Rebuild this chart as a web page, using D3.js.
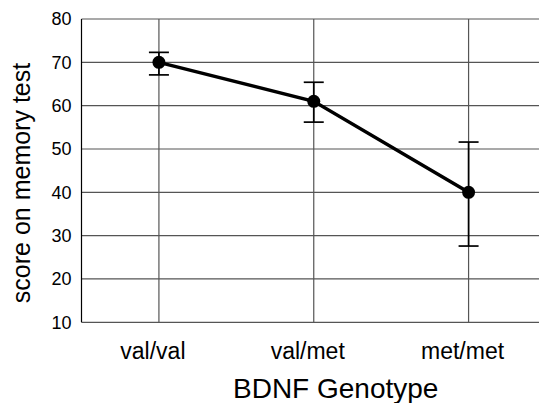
<!DOCTYPE html>
<html>
<head>
<meta charset="utf-8">
<script src="https://cdn.jsdelivr.net/npm/d3@7"></script>
<style>
  body { margin: 0; background: #fff; }
  svg { display: block; font-family: "Liberation Sans", Arial, sans-serif; }
</style>
</head>
<body>
<div id="chart"></div>
<script>
const genotypes = ["val/val", "val/met", "met/met"];
const means = [70, 61, 40];
const upper = [72.3, 65.4, 51.6];
const lower = [67.1, 56.2, 27.6];
const yTicks = [10, 20, 30, 40, 50, 60, 70, 80];

const W = 539, H = 403;
const plotLeft = 81.5, plotRight = 546, plotTop = 19, plotBottom = 322.3;

const svg = d3.select("#chart").append("svg").attr("width", W).attr("height", H);

const x = d3.scaleBand().domain(genotypes).range([plotLeft, plotRight]).paddingInner(0).paddingOuter(0);
const y = d3.scaleLinear().domain([10, 80]).range([plotBottom, plotTop]);
const cx = (g) => x(g) + x.bandwidth() / 2;

// horizontal grid
svg.append("g")
  .selectAll("line")
  .data(yTicks)
  .join("line")
  .attr("x1", plotLeft)
  .attr("x2", plotRight)
  .attr("y1", (d) => y(d))
  .attr("y2", (d) => y(d))
  .attr("stroke", "#555")
  .attr("stroke-width", 1.2);

// vertical grid at categories
svg.append("g")
  .selectAll("line")
  .data(genotypes)
  .join("line")
  .attr("x1", cx)
  .attr("x2", cx)
  .attr("y1", plotTop)
  .attr("y2", plotBottom)
  .attr("stroke", "#555")
  .attr("stroke-width", 1.2);

// left axis line
svg.append("line")
  .attr("x1", plotLeft).attr("x2", plotLeft)
  .attr("y1", plotTop).attr("y2", plotBottom)
  .attr("stroke", "#000").attr("stroke-width", 1.2);

// y tick labels
svg.append("g")
  .selectAll("text")
  .data(yTicks)
  .join("text")
  .attr("x", plotLeft - 10)
  .attr("y", (d) => y(d))
  .attr("dy", "0.36em")
  .attr("text-anchor", "end")
  .attr("font-size", 18)
  .text((d) => d);

// x category labels (sit a little left of their gridlines)
svg.append("g")
  .selectAll("text")
  .data(genotypes)
  .join("text")
  .attr("x", (g) => cx(g) - 6)
  .attr("y", 359)
  .attr("text-anchor", "middle")
  .attr("font-size", 23)
  .text((d) => d);

// axis titles
svg.append("text")
  .attr("x", 233)
  .attr("y", 398)
  .attr("font-size", 28)
  .text("BDNF Genotype");

svg.append("text")
  .attr("transform", `translate(30,183) rotate(-90)`)
  .attr("text-anchor", "middle")
  .attr("font-size", 25)
  .text("score on memory test");

// error bars
const eb = svg.append("g").attr("stroke", "#000").attr("stroke-width", 1.7);
genotypes.forEach((g, i) => {
  eb.append("line").attr("x1", cx(g)).attr("x2", cx(g)).attr("y1", y(upper[i])).attr("y2", y(lower[i]));
  [upper[i], lower[i]].forEach((v) => {
    eb.append("line").attr("x1", cx(g) - 10).attr("x2", cx(g) + 10).attr("y1", y(v)).attr("y2", y(v));
  });
});

// mean line and points
svg.append("path")
  .datum(genotypes.map((g, i) => [cx(g), y(means[i])]))
  .attr("fill", "none")
  .attr("stroke", "#000")
  .attr("stroke-width", 3.5)
  .attr("d", d3.line());

svg.append("g")
  .selectAll("circle")
  .data(genotypes)
  .join("circle")
  .attr("cx", cx)
  .attr("cy", (g, i) => y(means[i]))
  .attr("r", 6.5)
  .attr("fill", "#000");
</script>
</body>
</html>
